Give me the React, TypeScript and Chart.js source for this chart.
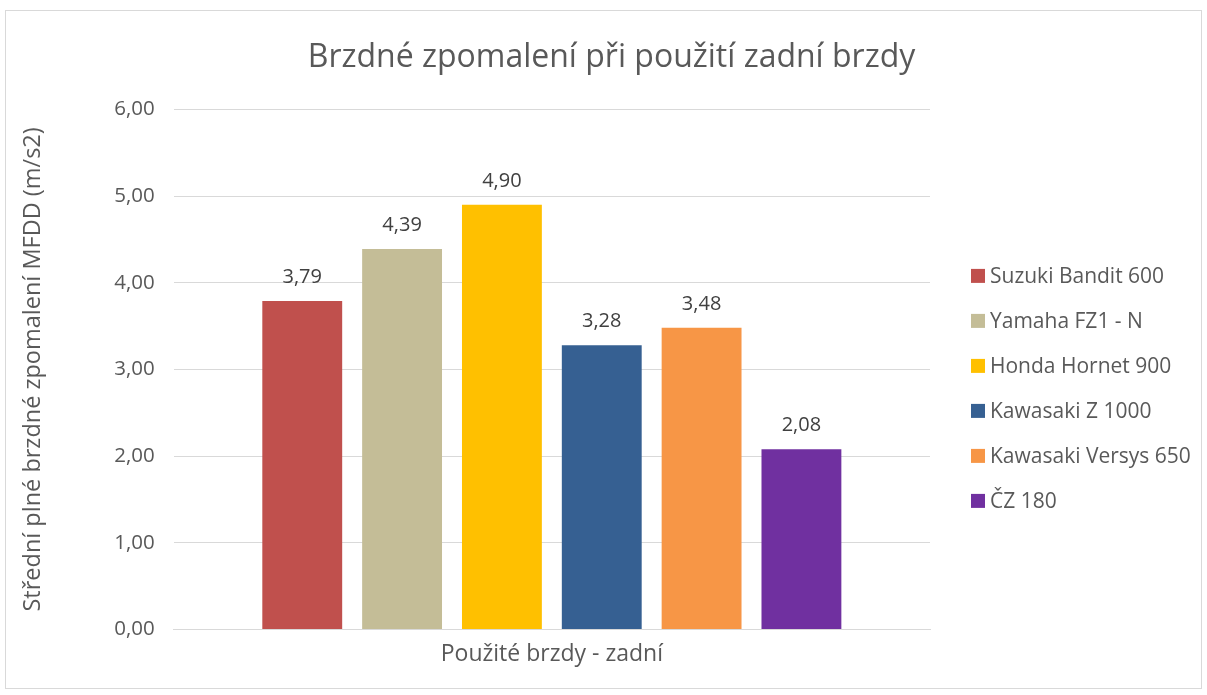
import React, { useEffect, useRef } from "react";
import { Chart, registerables } from "chart.js";

Chart.register(...registerables);

const categories = ["Použité brzdy - zadní"];
const chartTitle = "Brzdné zpomalení při použití zadní brzdy";
const yAxisTitle = "Střední plné brzdné zpomalení MFDD (m/s2)";
const seriesNames = [
  "Suzuki Bandit 600",
  "Yamaha FZ1 - N",
  "Honda Hornet 900",
  "Kawasaki Z 1000",
  "Kawasaki Versys 650",
  "ČZ 180",
];
const seriesValues = [3.79, 4.39, 4.9, 3.28, 3.48, 2.08];
const seriesColors = ["#C0504D", "#C4BD97", "#FFC000", "#366092", "#F79646", "#7030A0"];
const yTicks = [0, 1, 2, 3, 4, 5, 6];

const FONT = "'Open Sans', 'Noto Sans', sans-serif";
const TEXT = "#595959";
const fmt = (v: number) => v.toFixed(2).replace(".", ",");

const valueLabels = {
  id: "valueLabels",
  afterDatasetsDraw(chart: any) {
    const ctx = chart.ctx;
    ctx.save();
    ctx.font = `20px ${FONT}`;
    ctx.fillStyle = "#404040";
    ctx.textAlign = "center";
    ctx.textBaseline = "alphabetic";
    chart.data.datasets.forEach((ds: any, i: number) => {
      const meta = chart.getDatasetMeta(i);
      meta.data.forEach((bar: any, j: number) => {
        ctx.fillText(fmt(ds.data[j]), bar.x, bar.y - 18);
      });
    });
    ctx.restore();
  },
};

const centeredTitle = {
  id: "centeredTitle",
  afterDraw(chart: any) {
    const tb = chart.titleBlock;
    if (!tb) return;
    const ctx = chart.ctx;
    ctx.save();
    ctx.font = `32px ${FONT}`;
    ctx.fillStyle = TEXT;
    ctx.textAlign = "center";
    ctx.textBaseline = "middle";
    const y = tb.top + 39 + (32 * 1.2) / 2;
    ctx.fillText(chartTitle, chart.width / 2 + 8, y);
    ctx.restore();
  },
};

const sideLegend = {
  id: "sideLegend",
  afterDraw(chart: any) {
    const ctx = chart.ctx;
    const area = chart.chartArea;
    const rowH = 45;
    const n = chart.data.datasets.length;
    const centerY = (area.top + area.bottom) / 2 + 19;
    const startY = centerY - ((n - 1) * rowH) / 2;
    const boxX = area.right + 41;
    ctx.save();
    ctx.font = `21px ${FONT}`;
    ctx.textBaseline = "middle";
    ctx.textAlign = "left";
    chart.data.datasets.forEach((ds: any, i: number) => {
      const y = startY + i * rowH;
      ctx.fillStyle = ds.backgroundColor;
      ctx.fillRect(boxX, y - 7, 14, 14);
      ctx.fillStyle = TEXT;
      ctx.fillText(ds.label, boxX + 19, y + 1);
    });
    ctx.restore();
  },
};

export default function App() {
  const ref = useRef<HTMLCanvasElement>(null);
  useEffect(() => {
    if (!ref.current) return;
    const chart = new Chart(ref.current, {
      type: "bar",
      data: {
        labels: categories,
        datasets: seriesNames.map((n, i) => ({
          label: n,
          data: [seriesValues[i]],
          backgroundColor: seriesColors[i],
          borderWidth: 0,
        })),
      },
      options: {
        animation: false,
        responsive: false,
        maintainAspectRatio: false,
        layout: { padding: { left: 19, right: 277, top: 0, bottom: 27 } },
        datasets: { bar: { categoryPercentage: 0.792, barPercentage: 0.8 } },
        plugins: {
          title: {
            display: true,
            text: chartTitle,
            color: "rgba(0,0,0,0)",
            font: { family: FONT, size: 32, weight: "normal", lineHeight: 1.2 },
            padding: { top: 39, bottom: 32 },
          },
          legend: { display: false },
          tooltip: { enabled: false },
        },
        scales: {
          x: {
            grid: { display: false, drawTicks: false },
            border: { color: "#d9d9d9" },
            ticks: { display: false },
            title: {
              display: true,
              text: categories[0],
              color: TEXT,
              font: { family: FONT, size: 23, lineHeight: 1.2 },
              padding: { top: 11, bottom: 0 },
            },
          },
          y: {
            min: 0,
            max: 6,
            afterBuildTicks: (axis: any) => {
              axis.ticks = yTicks.map((v) => ({ value: v }));
            },
            grid: { color: "#d9d9d9", drawTicks: false },
            border: { display: false },
            ticks: {
              color: TEXT,
              font: { family: FONT, size: 20.5 },
              padding: 19,
              callback: (v: any) => fmt(Number(v)),
            },
            title: {
              display: true,
              text: yAxisTitle,
              color: TEXT,
              font: { family: FONT, size: 23.5, lineHeight: 1.2 },
              padding: { top: 0, bottom: 48 },
            },
          },
        },
      },
      plugins: [valueLabels, centeredTitle, sideLegend],
    });
    return () => chart.destroy();
  }, []);
  return (
    <div style={{ position: "fixed", left: 0, top: 0, width: 1207, height: 695, background: "#fff" }}>
      <div
        style={{
          position: "absolute",
          left: 5,
          top: 10,
          width: 1197,
          height: 679,
          border: "1px solid #d9d9d9",
          boxSizing: "border-box",
        }}
      />
      <canvas ref={ref} width={1207} height={695} style={{ position: "absolute", left: 0, top: 0 }} />
    </div>
  );
}
